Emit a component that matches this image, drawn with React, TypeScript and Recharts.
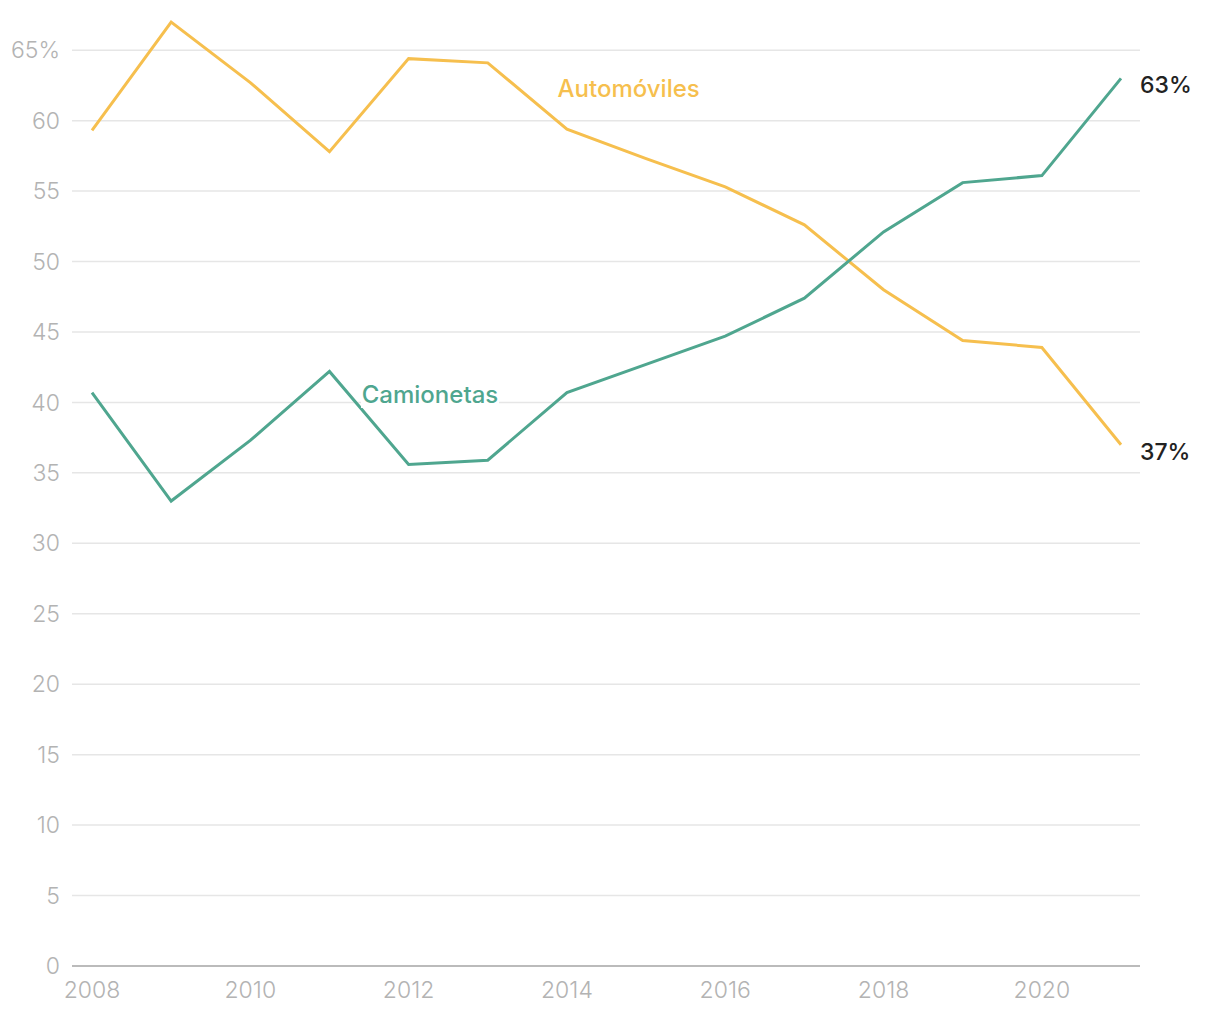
import { CartesianGrid, LineChart, Line, ReferenceDot, XAxis, YAxis } from 'recharts'

const years = [2008, 2009, 2010, 2011, 2012, 2013, 2014, 2015, 2016, 2017, 2018, 2019, 2020, 2021]
const autos = [59.3, 67.0, 62.7, 57.8, 64.4, 64.1, 59.4, 57.3, 55.3, 52.6, 48.0, 44.4, 43.9, 37.0]
const trucks = [40.7, 33.0, 37.3, 42.2, 35.6, 35.9, 40.7, 42.7, 44.7, 47.4, 52.1, 55.6, 56.1, 63.0]
const yTicks = [0, 5, 10, 15, 20, 25, 30, 35, 40, 45, 50, 55, 60, 65]
const xTicks = [2008, 2010, 2012, 2014, 2016, 2018, 2020]
const endLabels = ['37%', '63%']

const YELLOW = '#F6BF4E'
const GREEN = '#4FA68F'
const FONT = 'Inter, "Liberation Sans", Arial, sans-serif'

const data = years.map((y, i) => ({ year: y, autos: autos[i], trucks: trucks[i] }))
const last = years.length - 1

// draws the value text right of the final point only
const endLabel = (text: string) => (props: any) => {
  if (props.index !== last) return null
  return (
    <text x={props.x + 19} y={props.y + 15} fill="#222" fontSize={23} fontWeight={500} fontFamily={FONT}>
      {text}
    </text>
  )
}

const seriesName = (text: string, color: string, w: number) => (props: any) => (
  <g>
    <rect x={props.cx - w / 2} y={props.cy - 14} width={w} height={28} fill="#fff" />
    <text
      x={props.cx}
      y={props.cy + 9}
      textAnchor="middle"
      fill={color}
      fontSize={24}
      fontWeight={500}
      fontFamily={FONT}
    >
      {text}
    </text>
  </g>
)

export default function App() {
  return (
    <div style={{ width: 1204, height: 1004, fontFamily: FONT }}>
      <LineChart width={1204} height={1004} data={data} margin={{ top: 14, right: 72, left: 0, bottom: 6 }}>
        <CartesianGrid vertical={false} horizontalValues={yTicks} stroke="#e6e6e6" strokeWidth={1.5} />
        <XAxis
          dataKey="year"
          type="number"
          domain={[2008, 2021]}
          ticks={xTicks}
          padding={{ left: 20, right: 19 }}
          height={40}
          tickSize={0}
          tickMargin={16}
          axisLine={{ stroke: '#bbb', strokeWidth: 2 }}
          tick={{ fill: '#b3b3b3', fontSize: 23, fontWeight: 300, fontFamily: FONT }}
        />
        <YAxis
          type="number"
          domain={[0, 67]}
          ticks={yTicks}
          width={64}
          axisLine={false}
          tickSize={0}
          tickMargin={12}
          tickFormatter={(v: number) => (v === 65 ? '65%' : String(v))}
          tick={{ fill: '#b3b3b3', fontSize: 23, fontWeight: 300, fontFamily: FONT }}
        />
        <ReferenceDot x={2014.78} y={62.3} r={0} shape={seriesName('Automóviles', YELLOW, 142)} />
        <ReferenceDot x={2012.27} y={40.6} r={0} shape={seriesName('Camionetas', GREEN, 138)} />
        <Line
          dataKey="autos"
          stroke={YELLOW}
          strokeWidth={3}
          dot={false}
          type="linear"
          isAnimationActive={false}
          label={endLabel(endLabels[0])}
        />
        <Line
          dataKey="trucks"
          stroke={GREEN}
          strokeWidth={3}
          dot={false}
          type="linear"
          isAnimationActive={false}
          label={endLabel(endLabels[1])}
        />
      </LineChart>
    </div>
  )
}
